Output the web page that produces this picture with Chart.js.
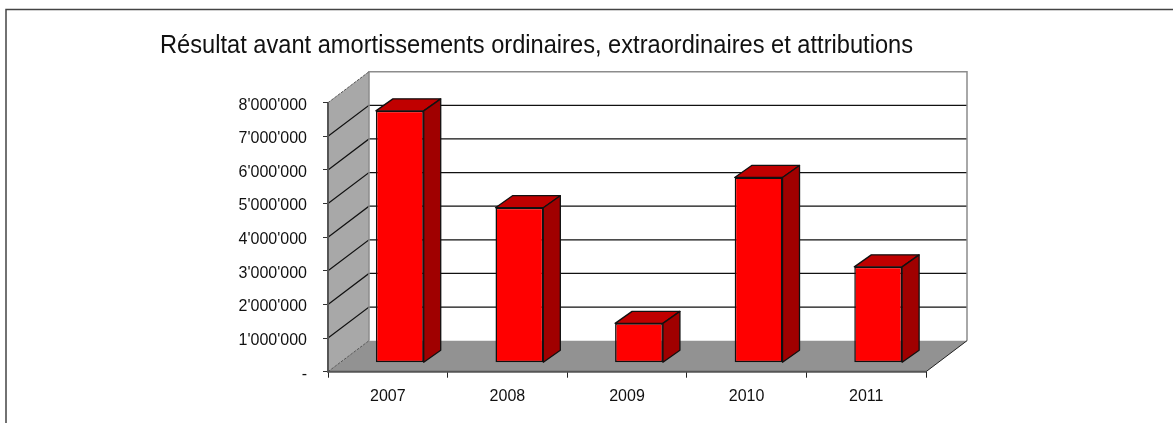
<!DOCTYPE html>
<html>
<head>
<meta charset="utf-8">
<title>Résultat</title>
<script src="https://cdn.jsdelivr.net/npm/chart.js@4/dist/chart.umd.min.js"></script>
<style>
    html, body { margin: 0; padding: 0; background: #fff; overflow: hidden; }
    #wrap { position: relative; width: 1173px; height: 423px; }
    canvas { display: block; }
</style>
</head>
<body>
<div id="wrap"><canvas id="chart" width="1173" height="423"></canvas></div>
<script>
const titleText = 'Résultat avant amortissements ordinaires, extraordinaires et attributions';
const years = ['2007', '2008', '2009', '2010', '2011'];
const resultValues = [7490000, 4610000, 1170000, 5510000, 2850000];
const yMax = 8000000;
const yStep = 1000000;

// depth of the fake 3D box and of the bars
const wallDx = 41, wallDy = -31;
const barDx = 17, barDy = -12;
const barShiftX = 12, barShiftY = -9;

const fontFamily = '"Liberation Sans Narrow", "Liberation Sans", Arial, sans-serif';

const formatTick = (value) => {
    if (value === 0) return '-';
    return String(value).replace(/\B(?=(\d{3})+$)/g, "'");
};

const poly = (ctx, pts, fill, stroke, lineWidth) => {
    ctx.beginPath();
    pts.forEach((p, i) => i ? ctx.lineTo(p[0], p[1]) : ctx.moveTo(p[0], p[1]));
    ctx.closePath();
    if (fill) { ctx.fillStyle = fill; ctx.fill(); }
    if (stroke) { ctx.strokeStyle = stroke; ctx.lineWidth = lineWidth || 1; ctx.stroke(); }
};

// Frame, walls, floor, gridlines
const boxPlugin = {
    id: 'box',
    // the title block width is passed as maxWidth, so this squeezes the text to the right length
    beforeDraw(chart) {
        chart.titleBlock.right = chart.titleBlock.left + 753;
    },
    beforeDatasetsDraw(chart) {
        const { ctx, chartArea: a, scales: { y } } = chart;
        const base = y.getPixelForValue(0);
        const top = y.getPixelForValue(yMax);
        ctx.save();

        ctx.strokeStyle = '#444';
        ctx.lineWidth = 1.5;
        ctx.beginPath();
        ctx.moveTo(6, 423);
        ctx.lineTo(6, 9.5);
        ctx.lineTo(1173, 9.5);
        ctx.stroke();

        // side wall
        poly(ctx, [[a.left, base], [a.left, top], [a.left + wallDx, top + wallDy], [a.left + wallDx, base + wallDy]], '#a8a8a8');
        // floor
        poly(ctx, [[a.left, base], [a.left + wallDx, base + wallDy], [a.right + wallDx, base + wallDy], [a.right, base]], '#929292');

        // gridlines on both walls
        ctx.strokeStyle = '#111';
        ctx.lineWidth = 1.2;
        y.ticks.forEach((t) => {
            if (t.value === 0 || t.value === yMax) return;
            const py = y.getPixelForValue(t.value);
            ctx.beginPath();
            ctx.moveTo(a.left, py);
            ctx.lineTo(a.left + wallDx, py + wallDy);
            ctx.lineTo(a.right + wallDx, py + wallDy);
            ctx.stroke();
        });

        // wall edges
        ctx.strokeStyle = '#8c8c8c';
        ctx.lineWidth = 1.5;
        ctx.beginPath();
        ctx.moveTo(a.left + wallDx, base + wallDy);
        ctx.lineTo(a.left + wallDx, top + wallDy);
        ctx.lineTo(a.right + wallDx, top + wallDy);
        ctx.lineTo(a.right + wallDx, base + wallDy);
        ctx.stroke();

        ctx.strokeStyle = '#555';
        ctx.lineWidth = 1;
        ctx.setLineDash([3, 1]);
        ctx.beginPath();
        ctx.moveTo(a.left, top);
        ctx.lineTo(a.left + wallDx, top + wallDy);
        ctx.moveTo(a.left, base);
        ctx.lineTo(a.left + wallDx, base + wallDy);
        ctx.stroke();
        ctx.setLineDash([]);

        ctx.strokeStyle = '#222';
        ctx.beginPath();
        ctx.moveTo(a.right, base);
        ctx.lineTo(a.right + wallDx, base + wallDy);
        ctx.stroke();
        ctx.strokeStyle = '#555';
        ctx.lineWidth = 2;
        ctx.beginPath();
        ctx.moveTo(a.left, top);
        ctx.lineTo(a.left, base);
        ctx.lineTo(a.right, base);
        ctx.stroke();
        ctx.restore();
    },
    // the flat bars sit in the middle of the box depth
    beforeDatasetDraw(chart) {
        chart.ctx.save();
        chart.ctx.translate(barShiftX, barShiftY);
    },
    afterDatasetDraw(chart, args) {
        const { ctx } = chart;
        args.meta.data.forEach((bar) => {
            const l = bar.x - bar.width / 2, r = bar.x + bar.width / 2;
            const t = bar.y, b = bar.base;
            ctx.lineJoin = 'round';
            poly(ctx, [[l, t], [l + barDx, t + barDy], [r + barDx, t + barDy], [r, t]], '#c00000', '#111', 1.3);
            poly(ctx, [[r, t], [r + barDx, t + barDy], [r + barDx, b + barDy], [r, b]], '#a00000', '#111', 1.3);
        });
        ctx.restore();
    }
};

new Chart(document.getElementById('chart').getContext('2d'), {
    type: 'bar',
    data: {
        labels: years,
        datasets: [{
            data: resultValues,
            backgroundColor: '#ff0000',
            borderColor: '#111',
            borderWidth: 1.5,
            borderSkipped: false,
            barPercentage: 0.4,
            categoryPercentage: 1
        }]
    },
    plugins: [boxPlugin],
    options: {
        responsive: false,
        animation: false,
        layout: { padding: { top: 30.4, left: 160, right: 247, bottom: 0 } },
        plugins: {
            legend: { display: false },
            tooltip: { enabled: false },
            title: {
                display: true,
                text: titleText,
                color: '#111',
                font: { family: '"Liberation Sans", Arial, sans-serif', size: 26, weight: 'normal', lineHeight: 1.2 },
                align: 'start',
                padding: { top: 0, bottom: 41.1 }
            }
        },
        scales: {
            x: {
                afterFit: (scale) => { scale.height = 51.3; },
                grid: { drawOnChartArea: false, drawTicks: true, tickLength: 6, color: '#222' },
                border: { display: false },
                ticks: { color: '#111', font: { family: fontFamily, size: 16 }, padding: 9, maxRotation: 0 }
            },
            y: {
                min: 0,
                max: yMax,
                afterFit: (scale) => { scale.width = 168; },
                grid: { drawOnChartArea: false, drawTicks: true, tickLength: 5, color: '#333' },
                border: { display: false },
                ticks: {
                    stepSize: yStep,
                    color: '#111',
                    padding: 16,
                    labelOffset: 2.5,
                    font: { family: fontFamily, size: 16 },
                    callback: formatTick
                }
            }
        }
    }
});
</script>
</body>
</html>
